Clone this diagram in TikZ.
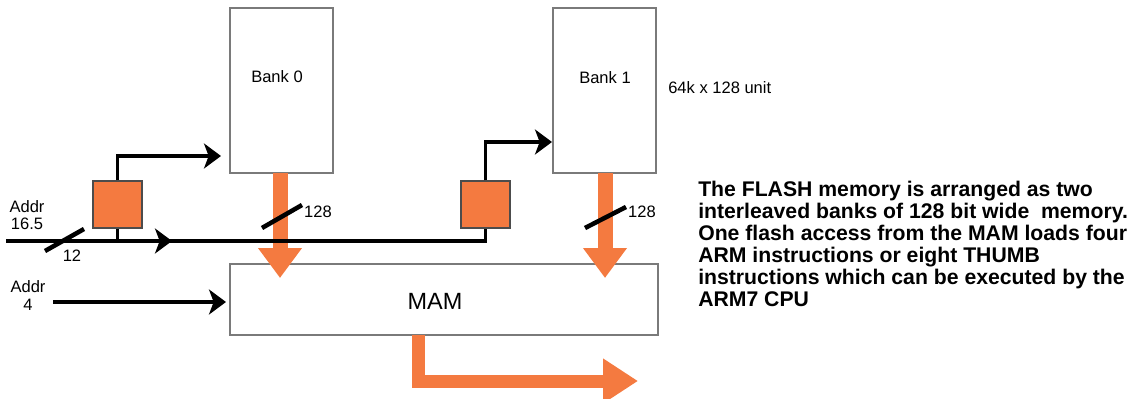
\documentclass[tikz,border=0pt]{standalone}
\usepackage{fontspec}
\setmainfont{Liberation Sans}
\usetikzlibrary{arrows.meta,decorations.markings}
\definecolor{flashorange}{HTML}{F47A40}
\definecolor{boxgray}{HTML}{7A7A7A}
\tikzset{
  membox/.style={draw=boxgray, line width=1pt, fill=white, minimum width=77.25pt, minimum height=123.75pt, inner sep=0pt},
  latchbox/.style={draw=black!70, line width=0.8pt, fill=flashorange, minimum width=36.75pt, minimum height=35.25pt, inner sep=0pt},
  sig/.style={line width=2.3pt, line join=miter},
  sigarr/.style={sig, -{Stealth[length=12.75pt, width=18.75pt, inset=3.5pt]}},
  slashmark/.style={line width=3.4pt},
  bus/.style={draw=flashorange, line width=11.25pt, line join=miter, -{Triangle[length=22.5pt, width=31.5pt]}},
  outbus/.style={draw=flashorange, line width=9.75pt, line join=miter, -{Triangle[length=26.25pt, width=32pt]}},
  lbl/.style={font=\fontsize{12.4pt}{13pt}\selectfont, inner sep=0pt},
}
\begin{document}
\begin{tikzpicture}[x=0.75pt, y=-0.75pt]
\useasboundingbox (0,0) rectangle (1135,399);
% memory banks
\node[membox] (bank0) at (281.5,90.5) {};
\node[membox] (bank1) at (604.5,90.5) {};
\node[lbl] (bank0lbl) at (277,77) {Bank 0};
\node[lbl] (bank1lbl) at (605,78) {Bank 1};
\node[lbl, anchor=west] (unitlbl) at (668,88) {64k x 128 unit};
% MAM
\node[draw=boxgray, line width=1pt, fill=white, minimum width=321pt, minimum height=53.25pt, inner sep=0pt] (mam) at (444,299.5) {};
\node[inner sep=0pt, font=\fontsize{17.6pt}{18pt}\selectfont] (mamlbl) at (435,301) {MAM};
% latches
\node[latchbox] (lbox) at (117.5,204.5) {};
\node[latchbox] (rbox) at (485.5,204.5) {};
% coordinates
\coordinate (busstart) at (6,241);
\coordinate (b0in) at (230,156);
\coordinate (b1in) at (553,142);
\coordinate (a4start) at (53,302);
\coordinate (a4end) at (230,302);
\coordinate (lj) at (117.5,241);
\coordinate (b0top) at (280,173);
\coordinate (b0tip) at (280,278);
\coordinate (b1top) at (605,173);
\coordinate (b1tip) at (605,278);
\coordinate (outstart) at (418,335);
\coordinate (outcorner) at (418,381);
\coordinate (outtip) at (638,381);
% orange data buses
\draw[bus] (b0top) -- (b0tip);
\draw[bus] (b1top) -- (b1tip);
\draw[outbus] (outstart) -- (outcorner) -- (outtip);
% address bus
\draw[sig, postaction={decorate, decoration={markings, mark=at position 124.5pt with {\arrow{Stealth[length=12.75pt, width=18.75pt, inset=3.5pt]}}}}] (busstart) -- (rbox.south |- busstart) -- (rbox.south);
\draw[sig] (lj) -- (lbox.south);
\draw[sigarr, shorten >=6.75pt] (lbox.north) |- (b0in);
\draw[sigarr, shorten >=0.75pt] (rbox.north) |- (b1in);
\draw[sigarr, shorten >=3pt] (a4start) -- (a4end);
% bus width marks
\coordinate (s1a) at (45,251); \coordinate (s1b) at (84,229);
\coordinate (s2a) at (262,228); \coordinate (s2b) at (302,205);
\coordinate (s3a) at (585,228); \coordinate (s3b) at (626,207);
\draw[slashmark] (s1a) -- (s1b);
\draw[slashmark] (s2a) -- (s2b);
\draw[slashmark] (s3a) -- (s3b);
\node[lbl] (w12) at (72,256) {12};
\node[lbl] (w128a) at (318,212) {128};
\node[lbl] (w128b) at (642,212) {128};
% address labels
\node[lbl, align=center, font=\fontsize{12.4pt}{12.75pt}\selectfont] (addr165) at (27,215.5) {Addr\\16.5};
\node[lbl, align=center, font=\fontsize{12.4pt}{13.5pt}\selectfont] (addr4) at (28,296) {Addr\\4};
% description
\node[anchor=north west, align=left, inner sep=0pt, font=\bfseries\fontsize{15.9pt}{16.5pt}\selectfont] (desc) at (698,181) {The FLASH memory is arranged as two\\interleaved banks of 128 bit wide\ \ memory.\\One flash access from the MAM loads four\\ARM instructions or eight THUMB\\instructions which can be executed by the\\ARM7 CPU};
\end{tikzpicture}
\end{document}
